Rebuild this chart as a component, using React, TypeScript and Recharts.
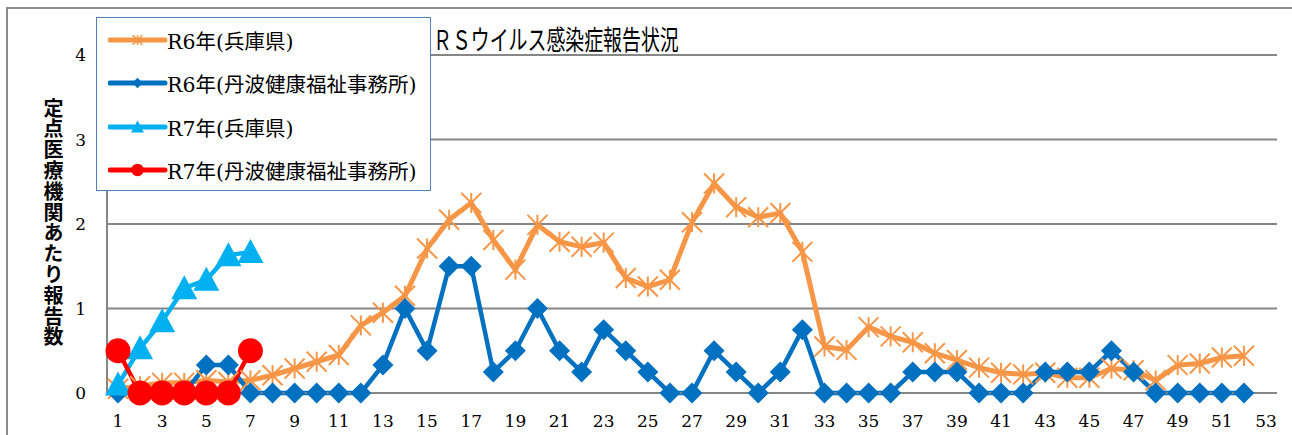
import React from 'react'
import { LineChart, Line, XAxis, YAxis, CartesianGrid, Legend } from 'recharts'

const weeks = [
  '1', '2', '3', '4', '5', '6', '7', '8', '9', '10', '11', '12', '13', '14', '15', '16', '17', '18',
  '19', '20', '21', '22', '23', '24', '25', '26', '27', '28', '29', '30', '31', '32', '33', '34', '35',
  '36', '37', '38', '39', '40', '41', '42', '43', '44', '45', '46', '47', '48', '49', '50', '51', '52', '53'
]

// R6年(兵庫県)
const r6Hyogo = [
  0.05, 0.08, 0.12, 0.12, 0.15, 0.13, 0.15, 0.21, 0.29, 0.37, 0.45, 0.8, 0.95, 1.15, 1.71, 2.05, 2.25,
  1.81, 1.46, 1.99, 1.79, 1.73, 1.78, 1.36, 1.26, 1.34, 2.02, 2.48, 2.2, 2.08, 2.13, 1.67, 0.55, 0.51,
  0.78, 0.67, 0.6, 0.47, 0.39, 0.3, 0.24, 0.22, 0.24, 0.18, 0.18, 0.29, 0.27, 0.15, 0.33, 0.35, 0.42, 0.44
]

// R6年(丹波健康福祉事務所)
const r6Tamba = [
  0, 0, 0, 0, 0.33, 0.33, 0, 0, 0, 0, 0, 0, 0.33, 1, 0.5, 1.5, 1.5, 0.25, 0.5, 1, 0.5, 0.25, 0.75,
  0.5, 0.25, 0, 0, 0.5, 0.25, 0, 0.25, 0.75, 0, 0, 0, 0, 0.25, 0.25, 0.25, 0, 0, 0, 0.25, 0.25, 0.25,
  0.5, 0.25, 0, 0, 0, 0, 0
]

// R7年(兵庫県)
const r7Hyogo = [0.1, 0.53, 0.85, 1.24, 1.34, 1.63, 1.67]

// R7年(丹波健康福祉事務所)
const r7Tamba = [0.5, 0, 0, 0, 0, 0, 0.5]

const yTicks = [0, 1, 2, 3, 4]

const data = weeks.map((w, i) => ({
  week: w,
  r6h: r6Hyogo[i] ?? null,
  r6t: r6Tamba[i] ?? null,
  r7h: r7Hyogo[i] ?? null,
  r7t: r7Tamba[i] ?? null
}))

const seriesOrder = ['r6h', 'r6t', 'r7h', 'r7t']

const markerOf: Record<string, string> = {
  r6h: 'star',
  r6t: 'diamond',
  r7h: 'triangle',
  r7t: 'circle'
}

const Marker = ({ kind, cx, cy, color, s = 1 }: any) => {
  if (kind === 'star') {
    const r = 10 * s
    return (
      <g stroke={color} strokeWidth={Math.max(2 * s, 1.5)}>
        <line x1={cx - r} y1={cy - r} x2={cx + r} y2={cy + r} />
        <line x1={cx - r} y1={cy + r} x2={cx + r} y2={cy - r} />
        <line x1={cx} y1={cy - r} x2={cx} y2={cy + r} />
      </g>
    )
  }
  if (kind === 'diamond') {
    const r = 10.5 * s
    return <polygon points={`${cx},${cy - r} ${cx + r},${cy} ${cx},${cy + r} ${cx - r},${cy}`} fill={color} />
  }
  if (kind === 'triangle') {
    const r = 13 * s
    return <polygon points={`${cx},${cy - r} ${cx + r},${cy + r * 0.85} ${cx - r},${cy + r * 0.85}`} fill={color} />
  }
  return <circle cx={cx} cy={cy} r={12.5 * s} fill={color} />
}

const dotFor = (kind: string, color: string) => (p: any) => {
  if (p.cx == null || p.cy == null || p.value == null || Number.isNaN(p.cy)) {
    return <g key={`e-${kind}-${p.index}`} />
  }
  return <Marker key={`${kind}-${p.index}`} kind={kind} cx={p.cx} cy={p.cy} color={color} />
}

const LegendBox = (props: any) => {
  const items = [...(props.payload || [])].sort(
    (a: any, b: any) => seriesOrder.indexOf(a.dataKey) - seriesOrder.indexOf(b.dataKey)
  )
  return (
    <div
      style={{
        width: 335,
        height: 174,
        background: '#fff',
        border: '1.5px solid #4F81BD',
        boxSizing: 'border-box',
        paddingTop: 0
      }}
    >
      {items.map((it: any) => (
        <div key={it.dataKey} style={{ display: 'flex', alignItems: 'center', height: 43.5 }}>
          <svg width={74} height={20} style={{ marginLeft: 11 }}>
            <line x1={2} y1={10} x2={57} y2={10} stroke={it.color} strokeWidth={5} strokeLinecap='round' />
            <Marker kind={markerOf[it.dataKey]} cx={29.5} cy={10} color={it.color} s={0.5} />
          </svg>
          <span
            style={{
              marginLeft: -15,
              fontSize: 20.5,
              color: '#000',
              fontFamily: '"DejaVu Serif", "Noto Sans CJK JP", serif',
              whiteSpace: 'nowrap'
            }}
          >
            {it.value}
          </span>
        </div>
      ))}
    </div>
  )
}

const tickFont = { fontSize: 17, fill: '#000', fontFamily: '"DejaVu Serif", serif' }

export default function App() {
  return (
    <div style={{ position: 'absolute', left: 0, top: 0, width: 1292, height: 435, background: '#fff', overflow: 'hidden' }}>
      <div
        style={{
          position: 'absolute',
          left: 6,
          top: 7,
          width: 1320,
          height: 460,
          border: '2px solid #8c8c8c',
          boxSizing: 'border-box'
        }}
      />
      <LineChart width={1292} height={435} data={data} margin={{ top: 55, right: 15, bottom: 12, left: 0 }}>
        <CartesianGrid vertical={false} stroke='#868686' strokeWidth={2} />
        <XAxis
          dataKey='week'
          scale='point'
          padding={{ left: 11, right: 11 }}
          interval={1}
          height={30}
          tickLine={false}
          tickMargin={16}
          axisLine={{ stroke: '#868686', strokeWidth: 2 }}
          tick={tickFont}
        />
        <YAxis
          domain={[0, 4]}
          ticks={yTicks}
          width={107}
          tickLine={false}
          tickMargin={15}
          axisLine={{ stroke: '#868686', strokeWidth: 2 }}
          tick={tickFont}
        />
        <Legend
          layout='vertical'
          align='center'
          verticalAlign='middle'
          wrapperStyle={{ left: 96, top: 17, width: 335, height: 174 }}
          content={LegendBox}
        />
        <Line
          dataKey='r6h'
          name='R6年(兵庫県)'
          stroke='#F79646'
          strokeWidth={5}
          dot={dotFor('star', '#F79646')}
          isAnimationActive={false}
        />
        <Line
          dataKey='r6t'
          name='R6年(丹波健康福祉事務所)'
          stroke='#0070C0'
          strokeWidth={4.5}
          dot={dotFor('diamond', '#0070C0')}
          isAnimationActive={false}
        />
        <Line
          dataKey='r7h'
          name='R7年(兵庫県)'
          stroke='#00B0F0'
          strokeWidth={4.5}
          dot={dotFor('triangle', '#00B0F0')}
          isAnimationActive={false}
        />
        <Line
          dataKey='r7t'
          name='R7年(丹波健康福祉事務所)'
          stroke='#FF0000'
          strokeWidth={4.5}
          dot={dotFor('circle', '#FF0000')}
          isAnimationActive={false}
        />
      </LineChart>
      <div
        style={{
          position: 'absolute',
          left: 433,
          top: 23,
          fontSize: 27,
          lineHeight: '32px',
          fontFamily: '"Noto Sans CJK JP", sans-serif',
          color: '#000',
          whiteSpace: 'nowrap',
          transform: 'scaleX(0.7)',
          transformOrigin: 'left top'
        }}
      >
        ＲＳウイルス感染症報告状況
      </div>
      <div
        style={{
          position: 'absolute',
          left: 42,
          top: 98,
          writingMode: 'vertical-rl',
          fontSize: 20,
          fontWeight: 'bold',
          letterSpacing: 0.8,
          lineHeight: '22px',
          fontFamily: '"Noto Sans CJK JP", sans-serif',
          color: '#000'
        }}
      >
        定点医療機関あたり報告数
      </div>
    </div>
  )
}
